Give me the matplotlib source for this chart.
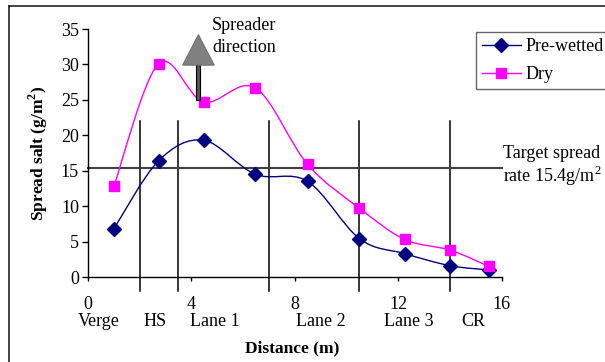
import numpy as np
import matplotlib
matplotlib.use("Agg")
import matplotlib.pyplot as plt
from matplotlib.path import Path
from matplotlib.patches import PathPatch, Polygon, Rectangle
from matplotlib.lines import Line2D

plt.rcParams['font.family'] = ['Liberation Serif', 'DejaVu Serif']
plt.rcParams['mathtext.fontset'] = 'custom'
plt.rcParams['mathtext.rm'] = 'Liberation Serif'
plt.rcParams['mathtext.bf'] = 'Liberation Serif:bold'

# measured spread (g/m2) across the road width
distance = [1.0, 2.73, 4.47, 6.47, 8.49, 10.5, 12.25, 14.0, 15.5]
pre_wetted = [6.8, 16.4, 19.3, 14.5, 13.5, 5.4, 3.3, 1.6, 1.0]
dry = [12.8, 30.1, 24.7, 26.7, 15.9, 9.7, 5.3, 3.8, 1.5]
target_rate = 15.4

# road zones
zone_edges = [2.0, 3.5, 7.0, 10.5, 14.0]
zone_names = ['Verge', 'HS', 'Lane 1', 'Lane 2', 'Lane 3', 'CR']
zone_label_x = [0.4, 2.6, 4.9, 9.0, 12.4, 14.9]

x_ticks = [0, 4, 8, 12, 16]
y_ticks = list(range(0, 36, 5))

W, H = 605, 362
FS = 13


def smooth_path(x, y):
    # cubic bezier through the points (catmull-rom style, like a spreadsheet "smoothed line")
    pts = np.column_stack([x, y])
    n = len(pts)
    verts = [pts[0]]
    codes = [Path.MOVETO]
    for i in range(n - 1):
        p0 = pts[max(i - 1, 0)]
        p1 = pts[i]
        p2 = pts[i + 1]
        p3 = pts[min(i + 2, n - 1)]
        verts += [p1 + (p2 - p0) / 6.0, p2 - (p3 - p1) / 6.0, p2]
        codes += [Path.CURVE4] * 3
    return Path(verts, codes)


fig = plt.figure(figsize=(W / 100, H / 100), dpi=100)
ax = fig.add_axes([88 / W, 1 - 277 / H, 413.7 / W, 248 / H])
ax.set_xlim(0, 16)
ax.set_ylim(0, 35)

for s in ['top', 'right']:
    ax.spines[s].set_visible(False)
for s in ['left', 'bottom']:
    ax.spines[s].set_linewidth(1.0)

ax.set_xticks(x_ticks)
ax.set_yticks(y_ticks)
ax.tick_params(axis='y', direction='out', length=4.5, width=1, pad=2, labelsize=FS)
ax.tick_params(axis='x', direction='out', length=3, width=1, pad=11, labelsize=FS)

# zone boundaries
for xe in zone_edges:
    ax.plot([xe, xe], [-2.0, 22.0], color='black', lw=1.1, clip_on=False, zorder=2)

# target spread rate
ax.plot([0, 16], [target_rate, target_rate], color='#404040', lw=1.5, clip_on=False, zorder=2)

series = [
    ('Pre-wetted', pre_wetted, '#000080', 'D', 7),
    ('Dry', dry, '#FF00FF', 's', 7),
]
handles = []
for name, vals, col, mk, ms in series:
    ax.add_patch(PathPatch(smooth_path(distance, vals), fill=False,
                           edgecolor=col, lw=1.0, zorder=3))
    ax.plot(distance, vals, ls='none', marker=mk, ms=ms, color=col,
            markeredgecolor=col, zorder=4, clip_on=False)
    handles.append(Line2D([], [], color=col, lw=1.0, marker=mk, ms=ms))

# spreader direction arrow
ax.add_patch(Rectangle((4.19, 25.0), 0.16, 4.9, facecolor='#555555',
                       edgecolor='black', lw=0.8, zorder=5))
ax.add_patch(Polygon([(3.66, 29.9), (4.88, 29.9), (4.27, 34.2)], closed=True,
                     facecolor='#808080', edgecolor='#707070', lw=0.8, zorder=6,
                     clip_on=False))
fig.text(212 / W, 1 - 25 / H, 'Spreader', fontsize=FS, va='center', ha='left')
fig.text(212 / W, 1 - 48 / H, 'direction', fontsize=FS, va='center', ha='left')

# target label
fig.text(503 / W, 1 - 153 / H, 'Target spread', fontsize=FS, va='center', ha='left')
fig.text(503 / W, 1 - 176 / H, r'rate 15.4g/m$^{2}$', fontsize=FS, va='center', ha='left')

# zone names under the axis
for name, xl in zip(zone_names, zone_label_x):
    ax.text(xl, -6.3, name, fontsize=FS, ha='center', va='center', clip_on=False)

fig.text(292 / W, 1 - 348 / H, 'Distance (m)', fontsize=12.5, fontweight='bold',
         ha='center', va='center')
fig.text(38 / W, 1 - 153 / H, r'Spread salt (g/m$^{\mathbf{2}}$)', fontsize=12.5,
         fontweight='bold', ha='center', va='center', rotation=90)

leg = fig.legend(handles, ['Pre-wetted', 'Dry'], loc='upper left',
                 bbox_to_anchor=(475.7 / W, 1 - 32 / H), frameon=True, fancybox=False,
                 fontsize=FS, handlelength=2.15, handletextpad=0.25, borderpad=0.35,
                 labelspacing=0.6, borderaxespad=0)
leg.get_frame().set_edgecolor('#404040')
leg.get_frame().set_linewidth(1.0)

# outer chart frame
fig.add_artist(Line2D([9 / W, 9 / W], [0, 1 - 6 / H], transform=fig.transFigure,
                      color='#222222', lw=1.2))
fig.add_artist(Line2D([9 / W, 1], [1 - 6 / H, 1 - 6 / H], transform=fig.transFigure,
                      color='#222222', lw=1.2))

fig.savefig('out.png', dpi=100)
